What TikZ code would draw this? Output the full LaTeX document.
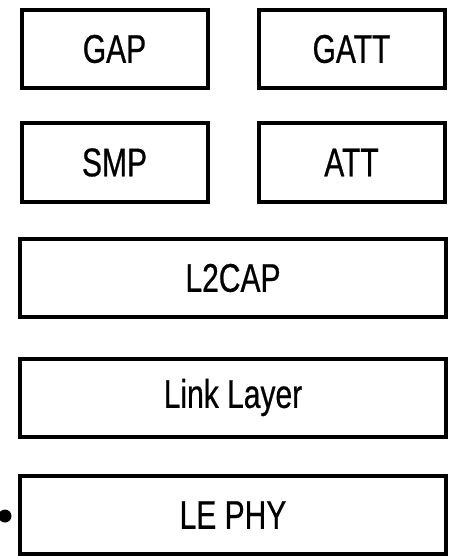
\documentclass[tikz,border=0pt]{standalone}
\usepackage{fontspec}
\setmainfont{Liberation Sans}[FakeStretch=0.75, FakeBold=0.6]
\begin{document}
\begin{tikzpicture}[x=1pt,y=-1pt,
  layer/.style={draw=black, line width=4pt, fill=white, minimum height=78pt,
    inner sep=0pt, font=\fontsize{40}{42}\selectfont},
  half/.style={layer, minimum width=186pt},
  full/.style={layer, minimum width=426pt}]
  \useasboundingbox (0,0) rectangle (452,556);
  % upper rows: profiles and protocols
  \node[half] (gap)  at (114.5,49)  {GAP};
  \node[half] (gatt) at (351.5,49)  {GATT};
  \node[half] (smp)  at (114.5,162.5) {SMP};
  \node[half] (att)  at (351.5,162.5) {ATT};
  % full-width layers
  \node[full] (l2cap) at (233,278)   {L2CAP};
  \node[full] (ll)    at (233,397.5) {Link Layer};
  \node[full] (phy)   at (233,515)   {LE PHY};
  % marker beside the physical layer
  \node[circle, fill=black, inner sep=0pt, minimum size=13pt] (dot) at (5,516) {};
\end{tikzpicture}
\end{document}
